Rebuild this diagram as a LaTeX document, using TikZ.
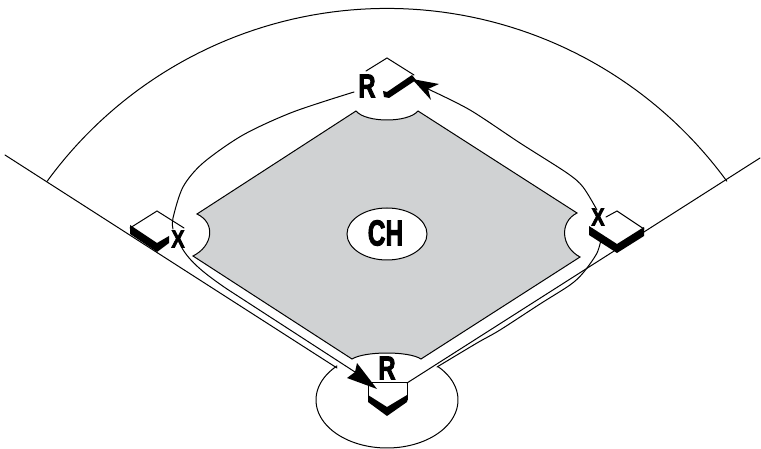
\documentclass[tikz,border=0pt]{standalone}
\usepackage{fontspec}
\usetikzlibrary{shapes.geometric}
\setmainfont{Liberation Sans}
\newfontfamily\handfont[BoldFeatures={FakeBold=3}]{Liberation Sans}
\definecolor{infield}{HTML}{D0D2D3}
\tikzset{
  ln/.style={line width=1pt,line cap=round,line join=miter},
  grass/.style={ln,fill=infield},
  lab/.style={inner sep=0pt,font=\handfont\bfseries\fontsize{33}{33}\selectfont},
  chlab/.style={inner sep=0pt,font=\handfont\bfseries\fontsize{36}{36}\selectfont},
  xlab/.style={inner sep=0pt,font=\handfont\bfseries\fontsize{25}{25}\selectfont}
}
\begin{document}
\begin{tikzpicture}[x=1pt,y=-1pt]
\useasboundingbox (0,0) rectangle (761,449);
% named points
\coordinate (foulLa) at (5,155);
\coordinate (foulLb) at (337,368);
\coordinate (foulRa) at (760,158);
\coordinate (foulRb) at (407,383);
\coordinate (tipTop) at (412,79);
\coordinate (notchTop) at (428,89);
\coordinate (tipHome) at (377,389);
\coordinate (notchHome) at (355,372);
% outfield and foul lines
\draw[ln] plot[domain=143.9:36.1,samples=80] ({387+420.6*cos(\x)},{429-420.6*sin(\x)});
\draw[ln] (foulLa) -- (foulLb);
\draw[ln] (foulRa) -- (foulRb);
% home circle
\draw[ln] plot[domain=134.7:404,samples=90] ({387+71*cos(\x)},{400-48*sin(\x)});
% infield
\draw[grass] (356,111) .. controls (366,123) and (408,123) .. (418,111)
  -- (577,213) .. controls (559,222) and (561,247) .. (580,257)
  -- (421,359) .. controls (409,351) and (365,351) .. (352,359)
  -- (193,256) .. controls (213,246) and (216,223) .. (197,214) -- cycle;
\node[draw,fill=white,line width=1pt,ellipse,minimum width=80pt,minimum height=52pt,inner sep=0pt] (ch) at (387,234) {};
\node[chlab] (chl) at (385.5,233) {\scalebox{0.68}[1]{CH}};
% bases
\draw[ln] (366,71) -- (387,58) -- (414,75);
\fill[black] (383,91) -- (387,92) -- (412,75) -- (416,80) -- (389,98) -- (384,97) -- cycle;
\draw[ln] (130,228) -- (157,211) -- (184,228);
\fill[black] (130,225) -- (157,243) -- (169,236) -- (169,243) -- (157,252) -- (130,234) -- cycle;
\draw[ln] (606,217) -- (617,211) -- (644,229);
\fill[black] (589,226) -- (617,244) -- (644,227) -- (644,236) -- (617,253) -- (589,235) -- cycle;
% home plate
\draw[ln] (368,400) -- (368,382) -- (407,382) -- (407,400);
\fill[black] (368,395) -- (387,407) -- (407,395) -- (407,402) -- (387,416) -- (368,402) -- cycle;
% runner lines
\draw[ln] plot[smooth] coordinates {(354,92) (293,112) (243,135) (203,163) (183,187) (173,218) (173,229)};
\draw[ln] (182,248) .. controls (190,262) and (205,274) .. (227,289) -- (notchHome);
\draw[ln] plot[smooth] coordinates {(428,89) (470,110) (520,143) (567,173) (583,187) (597,210)};
\draw[ln] plot[smooth] coordinates {(602,235) (597,253) (583,273) (570,285) (540,304) (500,330) (477,343) (437,367)};
% arrowheads
\fill[black] (tipTop) -- (439,84) -- (notchTop) -- (431,100) -- cycle;
\fill[black] (tipHome) -- (357,363) -- (notchHome) -- (347,378) -- cycle;
% labels
\node[lab] (rtop) at (367,86) {\scalebox{0.72}[1]{R}};
\node[lab] (rhome) at (387,368) {\scalebox{0.72}[1]{R}};
\node[xlab] (xl) at (178,239) {\scalebox{0.8}[1]{X}};
\node[xlab] (xr) at (598,217) {\scalebox{0.8}[1]{X}};
\end{tikzpicture}
\end{document}
